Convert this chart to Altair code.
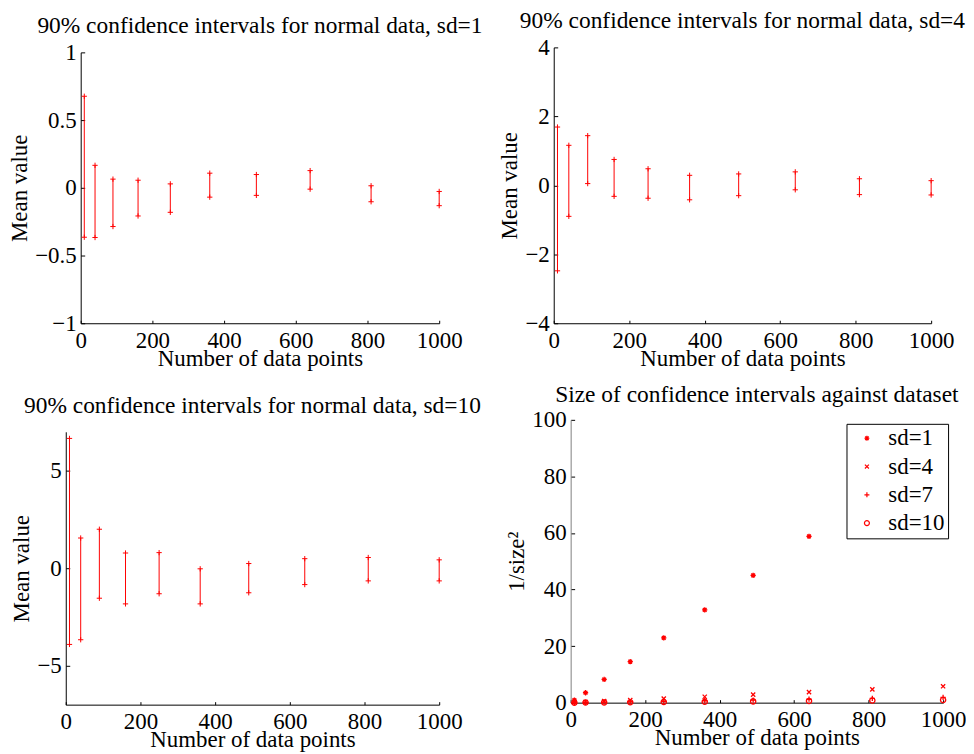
import altair as alt
import pandas as pd

# ---------------- data ----------------
n_points = [10, 40, 90, 160, 250, 360, 490, 640, 810, 1000]

sd1_low = [-0.365, -0.367, -0.286, -0.208, -0.181, -0.069, -0.056, -0.010, -0.103, -0.132]
sd1_high = [0.676, 0.166, 0.064, 0.056, 0.029, 0.108, 0.098, 0.127, 0.015, -0.027]

sd4_low = [-2.48, -0.90, 0.05, -0.32, -0.375, -0.42, -0.30, -0.13, -0.27, -0.28]
sd4_high = [1.69, 1.16, 1.44, 0.75, 0.48, 0.29, 0.33, 0.39, 0.19, 0.135]

sd10_low = [-3.91, -3.67, -1.54, -1.83, -1.31, -1.83, -1.26, -0.84, -0.65, -0.65]
sd10_high = [6.66, 1.55, 2.00, 0.78, 0.80, -0.03, 0.24, 0.49, 0.55, 0.43]

inv_sd1 = [0.9, 3.5, 8.2, 14.5, 22.9, 32.8, 45.0, 58.8, 74.8, 92.5]
inv_sd4 = [0.06, 0.23, 0.52, 0.92, 1.44, 2.08, 2.83, 3.7, 4.68, 5.78]
inv_sd7 = [0.02, 0.08, 0.17, 0.30, 0.47, 0.68, 0.92, 1.21, 1.53, 1.89]
inv_sd10 = [0.01, 0.04, 0.08, 0.15, 0.23, 0.33, 0.45, 0.59, 0.75, 0.92]

series_labels = ["sd=1", "sd=4", "sd=7", "sd=10"]
x_ticks = [0, 200, 400, 600, 800, 1000]
y_ticks_sd1 = [-1, -0.5, 0, 0.5, 1]
y_ticks_sd4 = [-4, -2, 0, 2, 4]
y_ticks_sd10 = [-5, 0, 5]
y_ticks_inv = [0, 20, 40, 60, 80, 100]

# ---------------- style ----------------
FONT = "Liberation Serif"
FS = 23
TFS = 23.5
RED = "#ff0000"
LABEL_EXPR = "format(datum.value, '~g')"
PLUS = "M0,-1L0,1M-1,0L1,0"
ASTER = "M0,-1L0,1M-1,0L1,0M-0.7,-0.7L0.7,0.7M-0.7,0.7L0.7,-0.7"
XMARK = "M-0.8,-0.8L0.8,0.8M-0.8,0.8L0.8,-0.8"
series_shapes = [ASTER, XMARK, PLUS, "circle"]


def x_main():
    return alt.Axis(orient="bottom", values=x_ticks, labelExpr=LABEL_EXPR, ticks=False,
                    tickSize=0, labelPadding=6, labelFlush=False, labelOverlap=False,
                    labelFont=FONT, labelFontSize=FS, labelColor="black",
                    title="Number of data points", titlePadding=-5, titleFont=FONT,
                    titleFontSize=FS, titleFontWeight="normal", titleColor="black",
                    domainColor="black", grid=False, minExtent=0)


def x_ghost():
    return alt.Axis(orient="bottom", values=x_ticks, labels=False, domain=False, ticks=True,
                    tickSize=3, offset=-3, tickColor="black", title=None, grid=False,
                    minExtent=0, maxExtent=0)


def y_main(title, values, offset=0, domain_color="black"):
    return alt.Axis(orient="left", values=values, labelExpr=LABEL_EXPR, ticks=False,
                    tickSize=0, labelPadding=4.5, labelFlush=False, labelOverlap=False,
                    labelFont=FONT, labelFontSize=FS, labelColor="black",
                    title=title, titlePadding=3, titleFont=FONT, titleFontSize=FS,
                    titleFontWeight="normal", titleColor="black",
                    offset=offset, domainColor=domain_color, grid=False, minExtent=0)


def y_ghost(values, offset=0):
    return alt.Axis(orient="left", values=values, labels=False, domain=False, ticks=True,
                    tickSize=4, offset=offset - 4, tickColor="black", title=None, grid=False,
                    minExtent=0, maxExtent=0)


def panel_title(text, offset, dx=0):
    return alt.TitleParams(text=text, font=FONT, fontSize=TFS, fontWeight="normal",
                           color="black", anchor="middle", frame="group",
                           baseline="alphabetic", offset=offset, dx=dx)


def ci_panel(low, high, y_domain, y_values, title, width, height, y_range=None,
             x_range=None, y_offset=0, title_offset=7, title_dx=0):
    df = pd.DataFrame({"n": n_points, "low": low, "high": high})
    xs = dict(domain=[0, 1000], nice=False, zero=False)
    if x_range is not None:
        xs["range"] = x_range
    ys = dict(domain=y_domain, nice=False, zero=False)
    if y_range is not None:
        ys["range"] = y_range
    rules = alt.Chart(df).mark_rule(color=RED, strokeWidth=1).encode(
        x=alt.X("n:Q", scale=alt.Scale(**xs), axis=x_main()),
        y=alt.Y("low:Q", scale=alt.Scale(**ys), axis=y_main("Mean value", y_values, y_offset)),
        y2="high:Q",
    )
    ends = alt.Chart(df).transform_fold(["low", "high"], as_=["end", "value"]).mark_point(
        shape=PLUS, size=28, color=RED, strokeWidth=1, filled=False, opacity=1
    ).encode(
        x=alt.X("n:Q", scale=alt.Scale(**xs), axis=x_ghost()),
        y=alt.Y("value:Q", scale=alt.Scale(**ys), axis=y_ghost(y_values, y_offset)),
    )
    return alt.layer(rules, ends).resolve_axis(x="independent", y="independent").properties(
        width=width, height=height, title=panel_title(title, title_offset, title_dx)
    )


p1 = ci_panel(sd1_low, sd1_high, [-1, 1], y_ticks_sd1,
              "90% confidence intervals for normal data, sd=1", 375, 277,
              y_range=[277, 5], x_range=[15, 375], y_offset=-15, title_offset=-15.5,
              title_dx=7.5)
p2 = ci_panel(sd4_low, sd4_high, [-4, 4], y_ticks_sd4,
              "90% confidence intervals for normal data, sd=4", 379, 277, title_offset=-15.5)
p3 = ci_panel(sd10_low, sd10_high, [-7, 7], y_ticks_sd10,
              "90% confidence intervals for normal data, sd=10", 375, 286,
              y_range=[286, 12], title_offset=-17)

# ---- panel 4 ----
rows = []
for lab, vals in zip(series_labels, [inv_sd1, inv_sd4, inv_sd7, inv_sd10]):
    for n, v in zip(n_points, vals):
        rows.append({"n": n, "inv": v, "series": lab})
df4 = pd.DataFrame(rows)

xs4 = alt.Scale(domain=[0, 1000], nice=False, zero=False)
ys4 = alt.Scale(domain=[0, 100], nice=False, zero=False)

pts = alt.Chart(df4).mark_point(filled=False, size=28, strokeWidth=1.3, color=RED,
                                opacity=1).encode(
    x=alt.X("n:Q", scale=xs4, axis=x_main()),
    y=alt.Y("inv:Q", scale=ys4, axis=y_main("1/size²", y_ticks_inv, domain_color="#808080")),
    shape=alt.Shape("series:N", sort=series_labels,
                    scale=alt.Scale(domain=series_labels, range=series_shapes),
                    legend=alt.Legend(title=None, orient="none", legendX=277, legendY=4,
                                      strokeColor="black", fillColor="white", padding=3,
                                      labelFont=FONT, labelFontSize=FS, labelColor="black",
                                      symbolStrokeColor=RED, symbolFillColor="transparent",
                                      symbolStrokeWidth=1.2, symbolSize=25, symbolOffset=6,
                                      labelOffset=10, rowPadding=4.4, labelLimit=0)),
)
ghost4 = alt.Chart(df4).mark_point(opacity=0).encode(
    x=alt.X("n:Q", scale=xs4, axis=x_ghost()),
    y=alt.Y("inv:Q", scale=ys4, axis=y_ghost(y_ticks_inv)),
)
p4 = alt.layer(ghost4, pts).resolve_axis(x="independent", y="independent").properties(
    width=374, height=284,
    title=panel_title("Size of confidence intervals against dataset", -16.5),
)

row1 = alt.hconcat(p1, p2, spacing=115, bounds="flush")
row2 = alt.hconcat(p3, p4, spacing=132, bounds="flush").resolve_scale(
    shape="independent").resolve_legend(shape="independent")

chart = alt.vconcat(row1, row2, spacing=13).resolve_scale(
    shape="independent").resolve_legend(shape="independent").properties(
    padding={"left": 0, "top": 0, "right": 0, "bottom": 0}
).configure(font=FONT).configure_view(stroke=None).configure_axis(
    labelFont=FONT, labelFontSize=FS, labelColor="black",
    titleFont=FONT, titleFontSize=FS, titleFontWeight="normal", titleColor="black",
    domainColor="black", tickColor="black", domainWidth=1, tickWidth=1, grid=False,
)

chart.save("out.html", embed_options={"renderer": "svg", "actions": False})
